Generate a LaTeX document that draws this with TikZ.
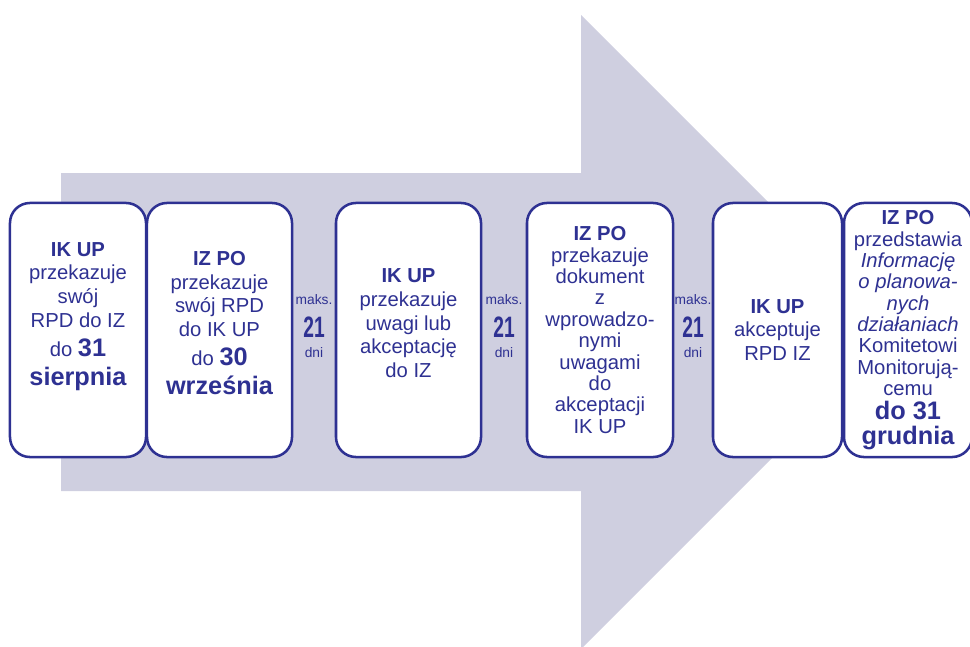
\documentclass[tikz,border=0pt]{standalone}
\usepackage{fontspec}
\setmainfont{Liberation Sans}
\usepackage{tikz}

\definecolor{navy}{RGB}{46,49,146}
\definecolor{arrowgray}{RGB}{207,207,224}

\newcommand{\datebf}[1]{{\fontsize{18}{21}\selectfont\bfseries #1}}

\begin{document}
\begin{tikzpicture}[x=0.025cm, y=-0.025cm, line width=1.8pt,
  stepbox/.style={draw=navy, fill=white, rounded corners=0.5cm, minimum height=6.35cm,
                  align=center, text=navy, inner sep=0pt, font=\fontsize{14.4}{16.8}\selectfont},
  tightbox/.style={stepbox, font=\fontsize{14.4}{15.2}\selectfont},
  daysnote/.style={text=navy, inner sep=0pt, font=\fontsize{9.8}{11}\selectfont},
  daysnum/.style={text=navy, inner sep=0pt, xscale=0.65, transform shape, font=\fontsize{21}{21}\selectfont\bfseries}]

\useasboundingbox (0,0) rectangle (970,646);

% draw big arrow
\fill[arrowgray] (61,173) -- (581,173) -- (581,15) -- (898,332)
                 -- (581,649) -- (581,491) -- (61,491) -- cycle;

% draw steps
\node[stepbox, minimum width=3.4cm] (ikupA) at (78,330)
  {\textbf{IK UP}\\przekazuje\\swój\\RPD do IZ\\[4pt]do \datebf{31}\\[4pt]\datebf{sierpnia}\\[6pt]};
\node[stepbox, minimum width=3.625cm] (izpoA) at (219.5,330)
  {\textbf{IZ PO}\\przekazuje\\swój RPD\\do IK UP\\[4pt]do \datebf{30}\\[4pt]\datebf{września}\\[-7pt]};
\node[stepbox, minimum width=3.625cm] (ikupB) at (408.5,330)
  {\textbf{IK UP}\\przekazuje\\uwagi lub\\akceptację\\do IZ\\[-7pt]};
\node[tightbox, minimum width=3.65cm] (izpoB) at (600,330)
  {\textbf{IZ PO}\\przekazuje\\dokument\\z\\wprowadzo-\\nymi\\uwagami\\do\\akceptacji\\IK UP};
\node[stepbox, minimum width=3.225cm] (ikupC) at (777.5,330)
  {\textbf{IK UP}\\akceptuje\\RPD IZ};
\node[tightbox, minimum width=3.2cm] (izpoC) at (908,330)
  {\textbf{IZ PO}\\przedstawia\\\textit{Informację}\\\textit{o planowa-}\\\textit{nych}\\\textit{działaniach}\\Komitetowi\\Monitorują-\\cemu\\[2pt]\datebf{do 31}\\[2pt]\datebf{grudnia}};

% draw time limits
\foreach \gx/\nm in {314/a, 504/b, 693/c} {
  \node[daysnote] (maks\nm) at (\gx,300) {maks.};
  \node[daysnum] (num\nm) at (\gx,327) {21};
  \node[daysnote] (dni\nm) at (\gx,353) {dni};
}

\end{tikzpicture}
\end{document}
